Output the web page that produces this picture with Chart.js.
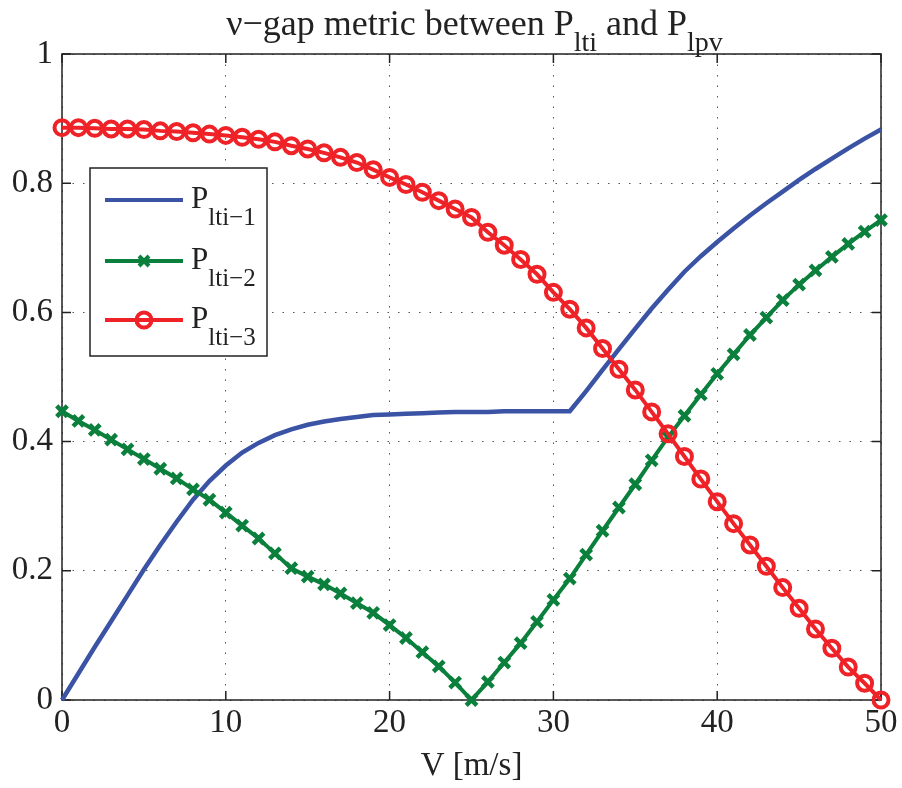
<!DOCTYPE html>
<html>
<head>
<meta charset="utf-8">
<script src="https://cdn.jsdelivr.net/npm/chart.js@4"></script>
<style>
  html, body { margin: 0; padding: 0; background: #fff; }
</style>
</head>
<body>
<canvas id="myChart" width="902" height="788"></canvas>
<script>
// wind speed V [m/s]
const speeds = [0, 1, 2, 3, 4, 5, 6, 7, 8, 9, 10, 11, 12, 13, 14, 15, 16, 17, 18, 19, 20,
  21, 22, 23, 24, 25, 26, 27, 28, 29, 30, 31, 32, 33, 34, 35, 36, 37, 38, 39, 40,
  41, 42, 43, 44, 45, 46, 47, 48, 49, 50];

// nu-gap of each LTI model against the LPV model
const lti1 = [0, 0.041, 0.082, 0.122, 0.162, 0.202, 0.240, 0.276, 0.310, 0.339, 0.363,
  0.383, 0.398, 0.410, 0.419, 0.426, 0.431, 0.435, 0.438, 0.441, 0.442,
  0.443, 0.444, 0.445, 0.446, 0.446, 0.446, 0.447, 0.447, 0.447, 0.447,
  0.447, 0.478, 0.511, 0.543, 0.575, 0.606, 0.635, 0.663, 0.687, 0.709,
  0.730, 0.750, 0.769, 0.787, 0.805, 0.822, 0.838, 0.854, 0.869, 0.883];

const lti2 = [0.447, 0.432, 0.418, 0.403, 0.388, 0.373, 0.358, 0.343, 0.326, 0.310, 0.290,
  0.270, 0.250, 0.227, 0.204, 0.191, 0.179, 0.165, 0.150, 0.135, 0.116,
  0.096, 0.074, 0.052, 0.027, 0.000, 0.028, 0.058, 0.088, 0.121, 0.155,
  0.188, 0.225, 0.262, 0.298, 0.334, 0.371, 0.407, 0.440, 0.473, 0.505,
  0.535, 0.565, 0.592, 0.619, 0.643, 0.665, 0.686, 0.706, 0.725, 0.743];

const lti3 = [0.886, 0.886, 0.885, 0.884, 0.884, 0.883, 0.881, 0.880, 0.878, 0.876, 0.874,
  0.871, 0.868, 0.864, 0.858, 0.853, 0.847, 0.840, 0.832, 0.821, 0.809,
  0.798, 0.786, 0.773, 0.760, 0.747, 0.724, 0.704, 0.682, 0.659, 0.631,
  0.605, 0.576, 0.544, 0.512, 0.480, 0.446, 0.412, 0.377, 0.342, 0.307,
  0.273, 0.240, 0.207, 0.174, 0.142, 0.110, 0.080, 0.051, 0.026, 0.000];

const xTicks = [0, 10, 20, 30, 40, 50];
const yTicks = [0, 0.2, 0.4, 0.6, 0.8, 1];

const seriesNames = ['lti\u22121', 'lti\u22122', 'lti\u22123'];
const titleParts = [
  { t: '\u03bd\u2212gap metric between P' }, { t: 'lti', sub: true },
  { t: ' and P' }, { t: 'lpv', sub: true }
];

const BLUE = '#3A53A4';
const GREEN = '#0B7F3C';
const RED = '#EE2227';
const FONT = '"Liberation Serif", "Times New Roman", serif';

function pts(ys) {
  return speeds.map((v, i) => ({ x: v, y: ys[i] }));
}

// text with TeX-like subscripts
function drawRich(ctx, parts, x, y, size, subSize, subDrop) {
  ctx.textBaseline = 'alphabetic';
  ctx.textAlign = 'left';
  let cx = x;
  parts.forEach(p => {
    ctx.font = (p.sub ? subSize : size) + 'px ' + FONT;
    ctx.fillText(p.t, cx, p.sub ? y + subDrop : y);
    cx += ctx.measureText(p.t).width;
  });
}

function richWidth(ctx, parts, size, subSize) {
  let w = 0;
  parts.forEach(p => {
    ctx.font = (p.sub ? subSize : size) + 'px ' + FONT;
    w += ctx.measureText(p.t).width;
  });
  return w;
}

const matlabLook = {
  id: 'matlabLook',
  beforeDatasetsDraw(chart) {
    const { ctx, chartArea: a, scales } = chart;
    ctx.save();
    ctx.strokeStyle = '#222';
    ctx.lineWidth = 1.5;
    ctx.beginPath();
    xTicks.forEach(t => {
      const px = scales.x.getPixelForValue(t);
      ctx.moveTo(px, a.bottom); ctx.lineTo(px, a.bottom - 9);
      ctx.moveTo(px, a.top); ctx.lineTo(px, a.top + 9);
    });
    yTicks.forEach(t => {
      const py = scales.y.getPixelForValue(t);
      ctx.moveTo(a.left, py); ctx.lineTo(a.left + 9, py);
      ctx.moveTo(a.right, py); ctx.lineTo(a.right - 9, py);
    });
    ctx.stroke();
    ctx.strokeRect(a.left, a.top, a.right - a.left, a.bottom - a.top);
    ctx.restore();
  },
  afterDraw(chart) {
    const { ctx, chartArea: a } = chart;
    ctx.save();
    ctx.fillStyle = '#222';

    // title
    const tw = richWidth(ctx, titleParts, 36, 28);
    drawRich(ctx, titleParts, (a.left + a.right) / 2 - tw / 2 + 3, 35, 36, 28, 16);

    // legend
    const bx = 90, by = 168, bw = 177, bh = 188;
    ctx.fillStyle = '#fff';
    ctx.fillRect(bx, by, bw, bh);
    ctx.strokeStyle = '#222';
    ctx.lineWidth = 1.5;
    ctx.strokeRect(bx, by, bw, bh);

    const rows = [200, 261, 320];
    const colors = [BLUE, GREEN, RED];
    rows.forEach((ry, i) => {
      ctx.strokeStyle = colors[i];
      ctx.lineWidth = 4;
      ctx.beginPath();
      ctx.moveTo(105, ry); ctx.lineTo(183, ry);
      ctx.stroke();
      if (i === 1) {
        ctx.lineWidth = 4;
        ctx.beginPath();
        ctx.moveTo(139, ry - 5); ctx.lineTo(149, ry + 5);
        ctx.moveTo(139, ry + 5); ctx.lineTo(149, ry - 5);
        ctx.stroke();
      } else if (i === 2) {
        ctx.lineWidth = 4;
        ctx.beginPath();
        ctx.arc(144, ry, 7.5, 0, Math.PI * 2);
        ctx.stroke();
      }
      ctx.fillStyle = '#222';
      drawRich(ctx, [{ t: 'P' }, { t: seriesNames[i], sub: true }], 191, ry + 8, 31, 25, 17);
    });
    ctx.restore();
  }
};

const tickFont = { family: FONT, size: 33 };

new Chart(document.getElementById('myChart'), {
  type: 'line',
  data: {
    datasets: [
      {
        label: 'P lti-1', data: pts(lti1), borderColor: BLUE, borderWidth: 4.5,
        pointRadius: 0, tension: 0, clip: false, order: 2
      },
      {
        label: 'P lti-2', data: pts(lti2), borderColor: GREEN, borderWidth: 4,
        pointStyle: 'crossRot', pointRadius: 7.5, pointBorderWidth: 4.5,
        pointBorderColor: GREEN, pointBackgroundColor: GREEN, tension: 0, clip: false, order: 1
      },
      {
        label: 'P lti-3', data: pts(lti3), borderColor: RED, borderWidth: 4,
        pointStyle: 'circle', pointRadius: 7.5, pointBorderWidth: 4,
        pointBorderColor: RED, pointBackgroundColor: 'rgba(0,0,0,0)', tension: 0, clip: false, order: 0
      }
    ]
  },
  options: {
    responsive: false,
    animation: false,
    devicePixelRatio: 1,
    layout: { padding: { left: 0, right: 21, top: 54, bottom: 0 } },
    plugins: {
      legend: { display: false },
      title: { display: false },
      tooltip: { enabled: false }
    },
    scales: {
      x: {
        type: 'linear', min: 0, max: 50,
        afterBuildTicks: s => { s.ticks = xTicks.map(v => ({ value: v })); },
        afterFit: s => { s.height = 88; },
        ticks: { font: tickFont, color: '#222', padding: 4, maxRotation: 0, callback: v => String(v) },
        grid: { drawTicks: false, color: '#555', lineWidth: 1 },
        border: { display: false, dash: [1.5, 9] },
        title: {
          display: true, text: 'V [m/s]', color: '#222',
          font: { family: FONT, size: 33 }, padding: { top: 0, bottom: 2 }
        }
      },
      y: {
        min: 0, max: 1,
        afterBuildTicks: s => { s.ticks = yTicks.map(v => ({ value: v })); },
        afterFit: s => { s.width = 62; },
        ticks: { font: tickFont, color: '#222', padding: 9, callback: v => String(v) },
        grid: { drawTicks: false, color: '#555', lineWidth: 1 },
        border: { display: false, dash: [1.5, 9] }
      }
    }
  },
  plugins: [matlabLook]
});
</script>
</body>
</html>
